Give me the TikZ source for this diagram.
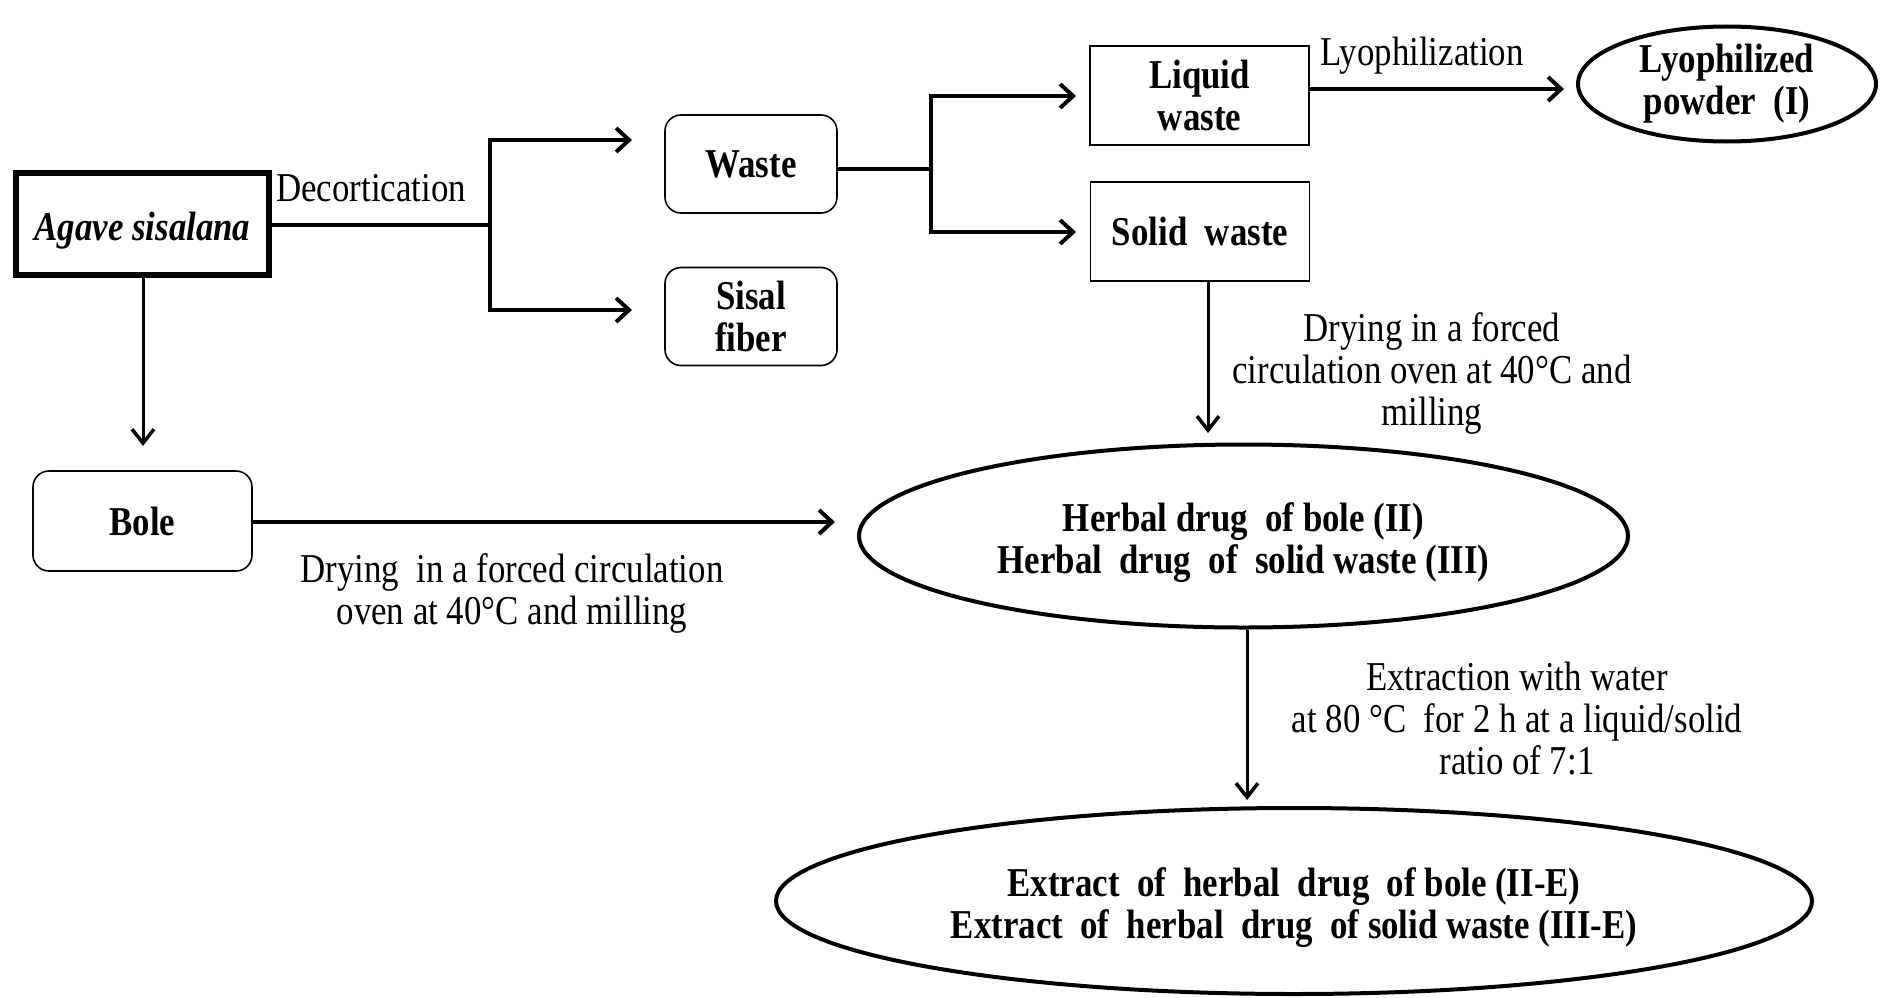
\documentclass[tikz,border=0pt]{standalone}
\usepackage{fontspec}
\setmainfont[FakeStretch=0.85]{Liberation Serif}
\usetikzlibrary{arrows.meta,shapes.geometric}
\tikzset{
  txt/.style={font=\fontsize{41}{42}\selectfont, align=center, inner sep=0pt},
  btxt/.style={font=\fontsize{41}{42}\selectfont\bfseries, align=center, inner sep=0pt},
  rbox/.style={btxt, draw, line width=1.6pt, rounded corners=16pt, minimum width=172pt, minimum height=98pt},
  sbox/.style={btxt, draw, line width=1.6pt, minimum width=219pt, minimum height=99pt},
  ell/.style={btxt, draw, ellipse, line width=4pt},
  conn/.style={line width=4pt},
  arr/.style={line width=4pt, -{Straight Barb[length=13pt,width=24pt,line width=4pt]}},
  thinarr/.style={line width=3pt, -{Straight Barb[length=14pt,width=22pt,line width=3.5pt]}}
}
\begin{document}
\begin{tikzpicture}[x=1pt,y=-1pt]
\useasboundingbox (0,0) rectangle (1881,998);
% nodes
\node[btxt, draw, line width=6pt, minimum width=253pt, minimum height=102pt,
  label={[btxt, font=\fontsize{41}{42}\selectfont\bfseries\itshape, yshift=-7pt]center:Agave sisalana}] (agave) at (142.5,224) {};
\node[txt] (dec) at (371,188) {Decortication};
\node[rbox] (waste) at (751,164) {Waste};
\node[rbox] (sisal) at (751,316.5) {Sisal\\fiber};
\node[sbox] (liquid) at (1199.5,95.5) {Liquid\\waste};
\node[sbox] (solid) at (1200,231.5) {Solid\ \ waste};
\node[txt] (lyo) at (1422,56) {Lyophilization};
\node[ell, minimum width=298pt, minimum height=115pt] (powder) at (1727,84) {Lyophilized\\powder\ \ (I)};
\node[txt] (dry1) at (1432,373) {Drying in a forced\\circulation oven at 40°C and\\milling};
\node[rbox, minimum width=219pt, minimum height=100pt] (bole) at (142.5,521) {Bole};
\node[txt] (dry2) at (512,593.5) {Drying\ \ in a forced circulation\\oven at 40°C and milling};
\node[ell, minimum width=769pt, minimum height=183pt,
  label={[btxt, yshift=-7pt]center:Herbal drug\ \ of bole (II)\\Herbal\ \ drug\ \ of\ \ solid waste (III)}] (herbal) at (1243.5,536) {};
\node[txt] (extr) at (1517,718.5) {Extraction with water\\at 80 °C\ \ for 2 h at a liquid/solid\\ratio of 7:1};
\node[ell, minimum width=1036pt, minimum height=186pt,
  label={[btxt, yshift=-7pt]center:Extract\ \ of\ \ herbal\ \ drug\ \ of bole (II-E)\\Extract\ \ of\ \ herbal\ \ drug\ \ of solid waste (III-E)}] (extract) at (1294,901) {};
% helper coordinates
\coordinate (f1) at (490,225);
\coordinate (f1t) at (490,140);
\coordinate (f1b) at (490,310);
\coordinate (t1) at (632,140);
\coordinate (t2) at (632,310);
\coordinate (f2) at (931,169);
\coordinate (f2t) at (931,96);
\coordinate (f2b) at (931,232);
\coordinate (t3) at (1076,96);
\coordinate (t4) at (1076,232);
\coordinate (lt) at (1564,89);
\coordinate (st) at (1208,433);
\coordinate (at) at (143,446);
\coordinate (bt) at (835,522);
\coordinate (ht) at (1247,800);
% connectors
\draw[conn] (agave.east |- f1) -- (f1);
\draw[arr] (f1) -- (f1t) -- (t1);
\draw[arr] (f1) -- (f1b) -- (t2);
\draw[conn] (waste.east |- f2) -- (f2);
\draw[arr] (f2) -- (f2t) -- (t3);
\draw[arr] (f2) -- (f2b) -- (t4);
\draw[arr] (liquid.east |- lt) -- (lt);
\draw[thinarr] (solid.south -| st) -- (st);
\draw[thinarr] (agave.south -| at) -- (at);
\draw[arr] (bole.east |- bt) -- (bt);
\draw[thinarr] (herbal.south -| ht) -- (ht);
\end{tikzpicture}
\end{document}
